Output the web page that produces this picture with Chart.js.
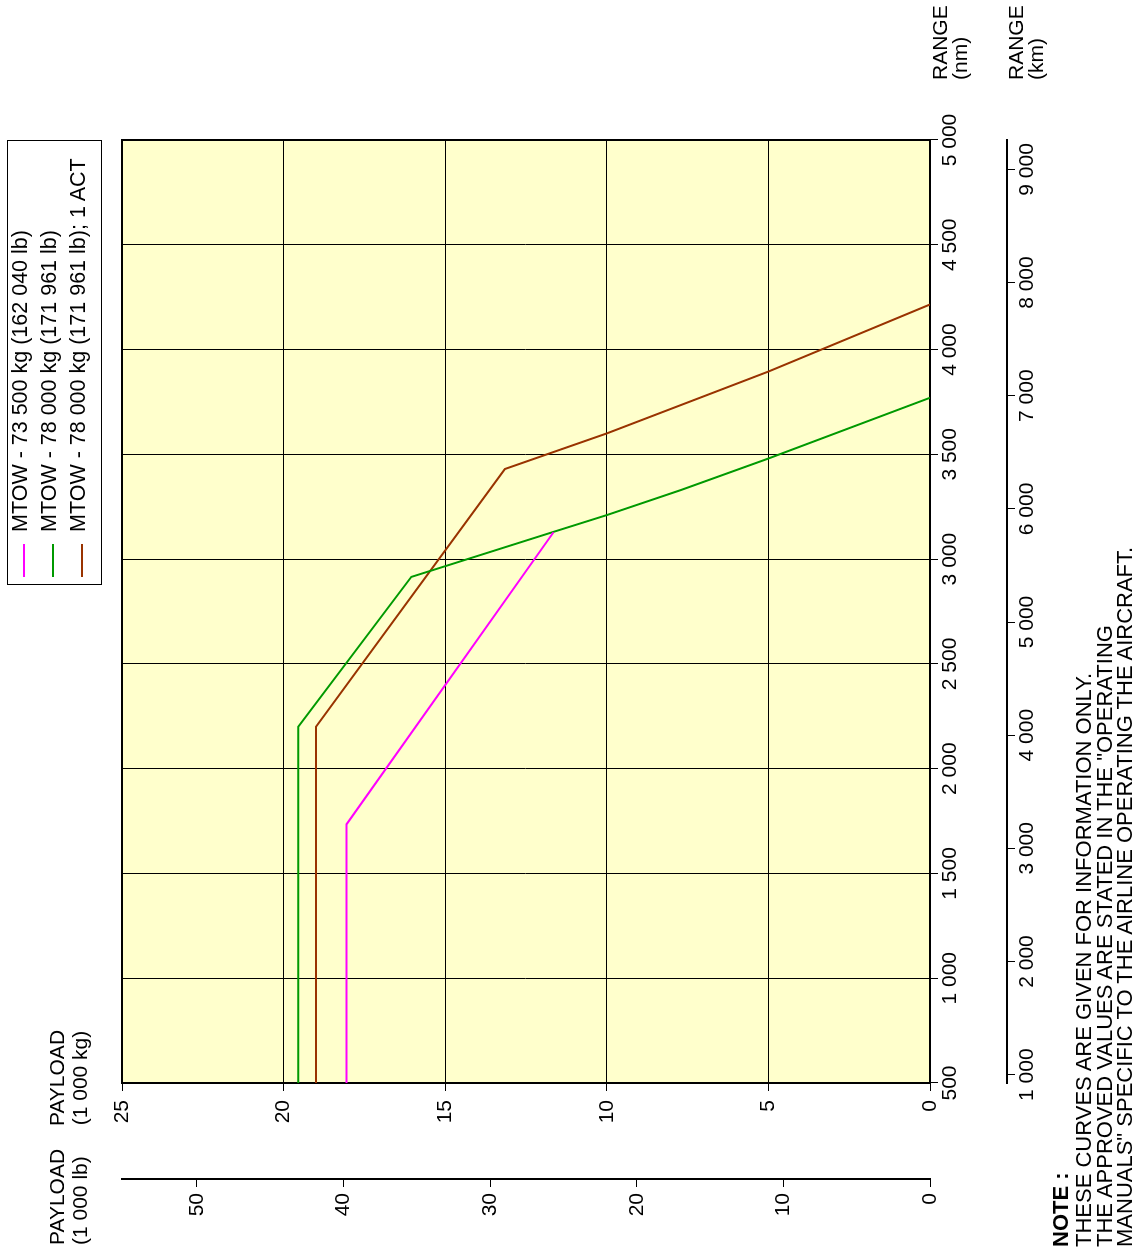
<!DOCTYPE html>
<html><head><meta charset="utf-8">
<script src="https://cdn.jsdelivr.net/npm/chart.js@4.4.1/dist/chart.umd.min.js"></script>
<style>
html,body{margin:0;padding:0;background:#fff;overflow:hidden;width:1141px;height:1252px;}
#rot{position:absolute;left:0;top:0;width:1252px;height:1141px;transform-origin:0 0;transform:translateY(1252px) rotate(-90deg);font-family:"Liberation Sans",Arial,sans-serif;color:#000;}
#rot canvas{position:absolute;left:0;top:0;}
.t{position:absolute;white-space:nowrap;line-height:1;}
#legend{position:absolute;left:667px;top:7px;width:445px;height:95px;border:1px solid #000;box-sizing:border-box;background:#fff;}
</style></head><body>
<div id="rot">
<canvas id="c" width="1252" height="1141" style="width:1252px;height:1141px"></canvas>
<div id="legend"></div>
</div>
<script>
// ---- data ----
const rangeNmTicks = [500, 1000, 1500, 2000, 2500, 3000, 3500, 4000, 4500, 5000];
const rangeKmTicks = [1000, 2000, 3000, 4000, 5000, 6000, 7000, 8000, 9000];
const payloadKgTicks = [0, 5, 10, 15, 20, 25];
const payloadLbTicks = [0, 10, 20, 30, 40, 50];

const seriesLabels = ['MTOW - 73 500 kg (162 040 lb)', 'MTOW - 78 000 kg (171 961 lb)', 'MTOW - 78 000 kg (171 961 lb); 1 ACT'];

const mtow735Range   = [500, 1735, 3128];
const mtow735Payload = [18.05, 18.05, 11.65];

const mtow78Range    = [500, 2200, 2915, 3130, 3210, 3330, 3480, 3770];
const mtow78Payload  = [19.55, 19.55, 16.05, 11.65, 10.0, 7.7, 5.0, 0];

const mtow78ActRange   = [500, 2200, 3430, 3600, 3895, 4215];
const mtow78ActPayload = [19.0, 19.0, 13.15, 10.0, 5.0, 0];

const NM_TO_KM = 1.852;
const KG_TO_LB = 1 / 0.45359237;

// ---- styles ----
const seriesColors = ['#ff00ff', '#009900', '#993300'];
const FAM = '"Liberation Sans", Arial, sans-serif';
const FONT = {family: FAM, size: 21};

const fmt = v => String(v).replace(/\B(?=(\d{3})+(?!\d))/g, ' ');
const toPts = (r, p) => r.map((x, i) => ({x: x, y: p[i]}));
const fixedTicks = arr => scale => { scale.ticks = arr.map(value => ({value})); };

const bgPlugin = {
  id: 'bg',
  beforeDraw(chart) {
    const {ctx, chartArea: a} = chart;
    ctx.save();
    ctx.fillStyle = '#fff';
    ctx.fillRect(0, 0, chart.width, chart.height);
    ctx.fillStyle = '#ffffcc';
    ctx.fillRect(a.left, a.top, a.right - a.left, a.bottom - a.top);
    ctx.restore();
  },
  afterDraw(chart) {
    const {ctx, chartArea: a} = chart;
    ctx.save();
    ctx.strokeStyle = '#000';
    ctx.lineWidth = 2;
    ctx.beginPath();
    ctx.moveTo(a.left, a.top); ctx.lineTo(a.right, a.top); ctx.lineTo(a.right, a.bottom);
    ctx.stroke();
    ctx.restore();
  }
};

const dataSets = [
  [mtow735Range, mtow735Payload],
  [mtow78Range, mtow78Payload],
  [mtow78ActRange, mtow78ActPayload]
].map((d, i) => ({
  label: seriesLabels[i],
  data: toPts(d[0], d[1]),
  borderColor: seriesColors[i],
  backgroundColor: seriesColors[i],
  borderWidth: 2,
  pointRadius: 0,
  tension: 0,
  fill: false
}));

const tickCommon = {font: FONT, color: '#000', maxRotation: 0, minRotation: 0, autoSkip: false, callback: v => fmt(v)};

new Chart(document.getElementById('c'), {
  type: 'line',
  data: {datasets: dataSets},
  options: {
    responsive: false,
    animation: false,
    events: [],
    layout: {padding: {left: 13, top: 122, right: 140, bottom: 74}},
    plugins: {legend: {display: false}, tooltip: {enabled: false}},
    scales: {
      x: {
        type: 'linear', position: 'bottom', weight: 0, min: 500, max: 5000,
        afterBuildTicks: fixedTicks(rangeNmTicks),
        afterFit: s => { s.height = 77; },
        ticks: Object.assign({}, tickCommon, {padding: 0}),
        grid: {color: '#000', lineWidth: 1, tickLength: 8},
        border: {color: '#000', width: 2}
      },
      xkm: {
        type: 'linear', position: 'bottom', weight: 1,
        min: rangeNmTicks[0] * NM_TO_KM, max: rangeNmTicks[rangeNmTicks.length - 1] * NM_TO_KM,
        afterBuildTicks: fixedTicks(rangeKmTicks),
        afterFit: s => { s.height = 60; },
        ticks: Object.assign({}, tickCommon, {padding: 0}),
        grid: {drawOnChartArea: false, color: '#000', lineWidth: 1, tickLength: 8},
        border: {color: '#000', width: 2}
      },
      y: {
        type: 'linear', position: 'left', weight: 0, min: 0, max: 25,
        afterBuildTicks: fixedTicks(payloadKgTicks),
        afterFit: s => { s.width = 96; },
        ticks: Object.assign({}, tickCommon, {padding: 9}),
        grid: {color: '#000', lineWidth: 1, tickLength: 8},
        border: {color: '#000', width: 2}
      },
      ylb: {
        type: 'linear', position: 'left', weight: 1, min: 0, max: 25 * KG_TO_LB,
        afterBuildTicks: fixedTicks(payloadLbTicks),
        afterFit: s => { s.width = 60; },
        ticks: Object.assign({}, tickCommon, {padding: 6}),
        grid: {drawOnChartArea: false, color: '#000', lineWidth: 1, tickLength: 8},
        border: {color: '#000', width: 2}
      }
    }
  },
  plugins: [bgPlugin]
});

// ---- real text (in the unrotated frame) ----
const rot = document.getElementById('rot');
function place(text, u, baseline, size, align, bold) {
  const d = document.createElement('div');
  d.className = 't';
  d.textContent = text;
  d.style.fontSize = size + 'px';
  if (bold) d.style.fontWeight = 'bold';
  d.style.top = (baseline - 0.8465 * size) + 'px';
  d.style.left = u + 'px';
  if (align === 'center') d.style.transform = 'translateX(-50%)';
  if (align === 'right') d.style.transform = 'translateX(-100%)';
  rot.appendChild(d);
  return d;
}
place('PAYLOAD', 174, 64, 21, 'center');
place('(1 000 kg)', 174, 86.5, 21, 'center');
place('PAYLOAD', 7, 64, 21, 'left');
place('(1 000 lb)', 7, 86.5, 21, 'left');
place('RANGE', 1172, 947, 21, 'left');
place('(nm)', 1172, 967, 21, 'left');
place('RANGE', 1172, 1023, 21, 'left');
place('(km)', 1172, 1043, 21, 'left');
place('NOTE :', 5, 1069, 22, 'left', true);
place('THESE CURVES ARE GIVEN FOR INFORMATION ONLY.', 5, 1092, 22, 'left');
place('THE APPROVED VALUES ARE STATED IN THE "OPERATING', 5, 1112.3, 22, 'left');
place('MANUALS" SPECIFIC TO THE AIRLINE OPERATING THE AIRCRAFT.', 5, 1132.5, 22, 'left');

// legend
const lg = document.getElementById('legend');
seriesLabels.forEach((lab, i) => {
  const cy = 22.7 + 29 * i - 7;   // relative to legend box top (box top = 7)
  const ln = document.createElement('div');
  ln.style.cssText = 'position:absolute;left:7px;top:' + (cy - 1) + 'px;width:33px;height:2px;background:' + seriesColors[i];
  lg.appendChild(ln);
  const tx = document.createElement('div');
  tx.className = 't';
  tx.textContent = lab;
  tx.style.fontSize = '21.5px';
  tx.style.left = '52px';
  tx.style.top = (28.5 + 29 * i - 7 - 0.8465 * 21.5 - 1) + 'px';
  lg.appendChild(tx);
});
</script>
</body></html>
